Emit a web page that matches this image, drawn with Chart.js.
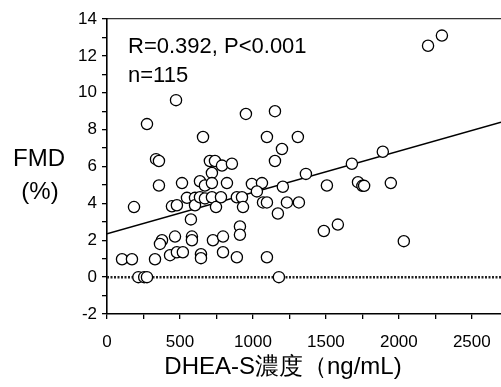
<!DOCTYPE html>
<html>
<head>
<meta charset="utf-8">
<script src="https://cdn.jsdelivr.net/npm/chart.js@4"></script>
<style>
  html, body { margin: 0; padding: 0; background: #fff; overflow: hidden; }
  #wrap { width: 501px; height: 387px; }
</style>
</head>
<body>
<div id="wrap"><canvas id="c" width="501" height="387"></canvas></div>
<script>
// ─── Data ─────────────────────────────────────────────────────────────────────

// DHEA-S (ng/mL) and FMD (%) for each subject
const dheaS = [
  2200, 2295, 473, 274, 952, 1151, 658, 1096, 1308, 1199,
  1890, 336, 356, 705, 740, 788, 856, 1151, 1678, 1363,
  719, 356, 514, 637, 671, 719, 822, 993, 1062, 1205,
  1507, 1720, 1750, 1762, 1945, 1027, 185, 445, 479, 548,
  603, 603, 637, 671, 719, 747, 781, 890, 925, 932,
  1069, 1096, 1233, 1315, 1171, 575, 911, 911, 1486, 1582,
  2034, 377, 363, 466, 582, 582, 726, 795, 103, 171,
  329, 432, 479, 520, 644, 644, 795, 890, 1096, 215,
  255, 274, 1178
];
const fmd = [
  12.55, 13.1, 9.6, 8.3, 8.85, 9.0, 7.6, 7.6, 7.6, 6.95,
  6.8, 6.4, 6.3, 6.3, 6.3, 6.05, 6.15, 6.3, 6.15, 5.6,
  5.65, 4.97, 5.1, 5.2, 4.97, 5.1, 5.1, 5.05, 5.1, 4.9,
  4.97, 5.15, 4.95, 4.95, 5.1, 4.65, 3.8, 3.84, 3.9, 4.3,
  4.3, 3.9, 4.33, 4.27, 4.33, 3.8, 4.33, 4.33, 4.33, 3.8,
  4.05, 4.05, 4.05, 4.05, 3.45, 3.13, 2.75, 2.3, 2.5, 2.85,
  1.95, 2.0, 1.8, 2.2, 2.2, 2.0, 2.0, 2.2, 0.97, 0.97,
  0.97, 1.19, 1.35, 1.35, 1.24, 1.03, 1.35, 1.08, 1.08, 0,
  0, 0, 0
];

// regression line end points and zero reference line
const fitX = [0, 2700];
const fitY = [2.35, 8.4];
const zeroX = [0, 2700];
const zeroY = [0, 0];

// axis ranges and tick values (labels only on every other tick)
const xMin = 0, xMax = 2700;
const xTicks = [0, 250, 500, 750, 1000, 1250, 1500, 1750, 2000, 2250, 2500];
const xLabels = [0, 500, 1000, 1500, 2000, 2500];
const yMin = -2, yMax = 14;
const yTicks = [-2, -1, 0, 1, 2, 3, 4, 5, 6, 7, 8, 9, 10, 11, 12, 13, 14];
const yLabels = [-2, 0, 2, 4, 6, 8, 10, 12, 14];

const statText = "R=0.392, P<0.001";
const nText = "n=115";
const yTitle = ["FMD", "(%)"];
const xTitle = "DHEA-S濃度（ng/mL)";

// ─── Helpers ──────────────────────────────────────────────────────────────────

const toPoints = (xs, ys) => xs.map((x, i) => ({ x, y: ys[i] }));
const FONT = "'Liberation Sans', Arial, sans-serif";

// axis titles and the stats annotation (plain text on the canvas)
const labelsPlugin = {
  id: "labels",
  afterDraw(chart) {
    const ctx = chart.ctx;
    const area = chart.chartArea;
    ctx.save();
    ctx.fillStyle = "#000";
    ctx.textBaseline = "alphabetic";

    ctx.font = "22px " + FONT;
    ctx.textAlign = "left";
    ctx.fillText(statText, area.left + 21, area.top + 34);
    ctx.fillText(nText, area.left + 21, area.top + 63);

    ctx.font = "24px " + FONT;
    ctx.textAlign = "center";
    ctx.fillText(yTitle[0], 39, 166);
    ctx.fillText(yTitle[1], 40, 199);

    ctx.fillText(xTitle, 283, 374);
    ctx.restore();
  },
};

// ─── Chart ────────────────────────────────────────────────────────────────────

new Chart(document.getElementById("c"), {
  type: "scatter",
  data: {
    datasets: [
      {
        label: "zero",
        type: "line",
        data: toPoints(zeroX, zeroY),
        borderColor: "#222",
        borderWidth: 2.5,
        borderDash: [2, 1.5],
        pointRadius: 0,
        fill: false,
        order: 3,
      },
      {
        label: "fit",
        type: "line",
        data: toPoints(fitX, fitY),
        borderColor: "#000",
        borderWidth: 1.6,
        pointRadius: 0,
        fill: false,
        order: 2,
      },
      {
        label: "subjects",
        data: toPoints(dheaS, fmd),
        pointRadius: 5.6,
        pointBorderWidth: 1.3,
        pointBorderColor: "#000",
        pointBackgroundColor: "#fff",
        order: 1,
      },
    ],
  },
  options: {
    responsive: false,
    animation: false,
    events: [],
    layout: { autoPadding: false, padding: { left: 0, top: 19, right: 0, bottom: 0 } },
    plugins: {
      legend: { display: false },
      tooltip: { enabled: false },
    },
    scales: {
      x: {
        type: "linear",
        min: xMin,
        max: xMax,
        afterBuildTicks(s) { s.ticks = xTicks.map((v) => ({ value: v })); },
        afterFit(s) {
          s.height = 387 - 314;
          s.paddingLeft = 0;
          s.paddingRight = 0;
        },
        border: { display: true, color: "#000", width: 1.6 },
        grid: { display: true, drawOnChartArea: false, drawTicks: true, tickLength: 5, color: "#000", lineWidth: 1.3 },
        ticks: {
          padding: 13,
          color: "#000",
          font: { family: FONT, size: 17 },
          maxRotation: 0,
          autoSkip: false,
          callback: (v) => (xLabels.includes(v) ? String(v) : ""),
        },
      },
      x2: {
        type: "linear",
        position: "top",
        min: xMin,
        max: xMax,
        afterFit(s) {
          s.height = 0;
          s.paddingLeft = 0;
          s.paddingRight = 0;
        },
        border: { display: true, color: "#333", width: 1.3 },
        grid: { display: false },
        ticks: { display: false },
      },
      y: {
        type: "linear",
        min: yMin,
        max: yMax,
        afterBuildTicks(s) { s.ticks = yTicks.map((v) => ({ value: v })); },
        afterFit(s) {
          s.width = 107;
          s.paddingTop = 0;
          s.paddingBottom = 0;
        },
        border: { display: true, color: "#000", width: 1.6 },
        grid: { display: true, drawOnChartArea: false, drawTicks: true, tickLength: 5, color: "#000", lineWidth: 1.3 },
        ticks: {
          padding: 5,
          color: "#000",
          font: { family: FONT, size: 17 },
          autoSkip: false,
          callback: (v) => (yLabels.includes(v) ? String(v) : ""),
        },
      },
    },
  },
  plugins: [labelsPlugin],
});
</script>
</body>
</html>
